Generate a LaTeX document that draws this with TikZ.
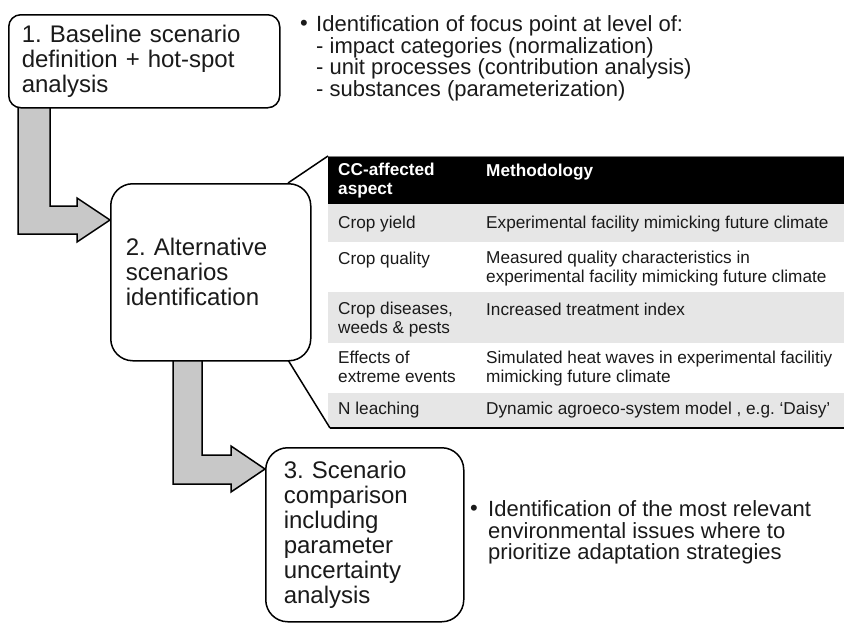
\documentclass[tikz,border=0pt]{standalone}
\usepackage{fontspec}
\setmainfont{Liberation Sans}
\frenchspacing
\newcommand\bxfont{\fontsize{24}{25}\selectfont}
\newcommand\ntfont{\fontsize{22}{20.5}\selectfont}
\newcommand\tbfont{\fontsize{17.2}{19.5}\selectfont}
\definecolor{arrowgray}{HTML}{C8C8C8}
\definecolor{rowgray}{HTML}{E6E6E6}
\definecolor{txt}{HTML}{1A1A1A}
\tikzset{
  stepbox/.style={draw=black, line width=1.5pt, fill=white, rounded corners=#1,
    font=\bxfont, text=txt, align=left, anchor=north west, inner ysep=0pt},
  blockarrow/.style={draw=black, line width=1.5pt, fill=arrowgray, line join=miter},
  note/.style={font=\ntfont, text=txt, align=left, anchor=north west, inner sep=0pt,
    execute at begin node=\strut},
  tcell/.style={font=\tbfont, text=txt, align=left, anchor=north west, inner sep=0pt,
    execute at begin node=\strut},
  thead/.style={tcell, font=\tbfont\bfseries, text=white},
  callout/.style={draw=black, line width=1.5pt},
}
\begin{document}
\begin{tikzpicture}[x=1pt,y=-1pt]
\useasboundingbox (0,0) rectangle (844,624);

% ---------- table ----------
\coordinate (ttl) at (328,156);
\coordinate (tbl) at (330,428);
\fill[black] (328,156) rectangle (844,204);
\fill[rowgray] (328,204) rectangle (844,242);
\fill[white] (328,242) rectangle (844,292);
\fill[rowgray] (328,292) rectangle (844,343);
\fill[white] (328,343) rectangle (844,393);
\fill[rowgray] (328,393) rectangle (844,428);
\draw[gray, line width=0.8pt] (328,156) -- (844,156);
\draw[black, line width=1.5pt] (tbl) -- (844,428);

\node[thead] (h1) at (338,162.35) {CC-affected\\aspect};
\node[thead] (h2) at (486,162.35) {Methodology};

\node[tcell] (r1a) at (338,214.35) {Crop yield};
\node[tcell] (r1b) at (486,214.35) {Experimental facility mimicking future climate};
\node[tcell] (r2a) at (338,250.35) {Crop quality};
\node[tcell] (r2b) at (486,250.35) {Measured quality characteristics in\\experimental facility mimicking future climate};
\node[tcell] (r3a) at (338,301.35) {Crop diseases,\\weeds \& pests};
\node[tcell] (r3b) at (486,301.35) {Increased treatment index};
\node[tcell] (r4a) at (338,350.35) {Effects of\\extreme events};
\node[tcell] (r4b) at (486,350.35) {Simulated heat waves in experimental facilitiy\\mimicking future climate};
\node[tcell] (r5a) at (338,400.35) {N leaching};
\node[tcell] (r5b) at (486,400.35) {Dynamic agroeco-system model , e.g. ‘Daisy’};

% ---------- block arrows ----------
\draw[blockarrow] (18,107) -- (50,107) -- (50,206) -- (77,206) -- (77,198)
  -- (110,220) -- (77,242) -- (77,234) -- (18,234) -- cycle;
\draw[blockarrow] (173,360) -- (202,360) -- (202,455) -- (231,455) -- (231,446)
  -- (265,469) -- (231,492) -- (231,484) -- (173,484) -- cycle;

% ---------- boxes ----------
\node[stepbox=12pt, minimum width=271pt, minimum height=93pt, text width=245pt, inner xsep=13pt]
  (b1) at (8,14) {1. Baseline scenario\\definition + hot-spot\\analysis};

\coordinate (c2t) at (288,183);
\coordinate (c2b) at (288,360);
\draw[callout] (c2t) -- (ttl);
\draw[callout] (c2b) -- (tbl);

\node[stepbox=22pt, minimum width=200pt, minimum height=177pt, text width=170pt, inner xsep=15pt]
  (b2) at (110,183) {2. Alternative\\scenarios\\identification};

\node[stepbox=22pt, minimum width=198pt, minimum height=174pt, text width=162pt, inner xsep=18pt]
  (b3) at (265,447) {3. Scenario\\comparison\\including\\parameter\\uncertainty\\analysis};

% ---------- notes ----------
\node[note] (n1bul) at (300,15.6) {•};
\node[note] (n1) at (316,15.6) {Identification of focus point at level of:\\- impact categories (normalization)\\- unit processes (contribution analysis)\\- substances (parameterization)};

\node[note, font=\fontsize{22}{21.7}\selectfont] (n2bul) at (470,500.3) {•};
\node[note, font=\fontsize{22}{21.7}\selectfont] (n2) at (488,500.3) {Identification of the most relevant\\environmental issues where to\\prioritize adaptation strategies};
\end{tikzpicture}
\end{document}
